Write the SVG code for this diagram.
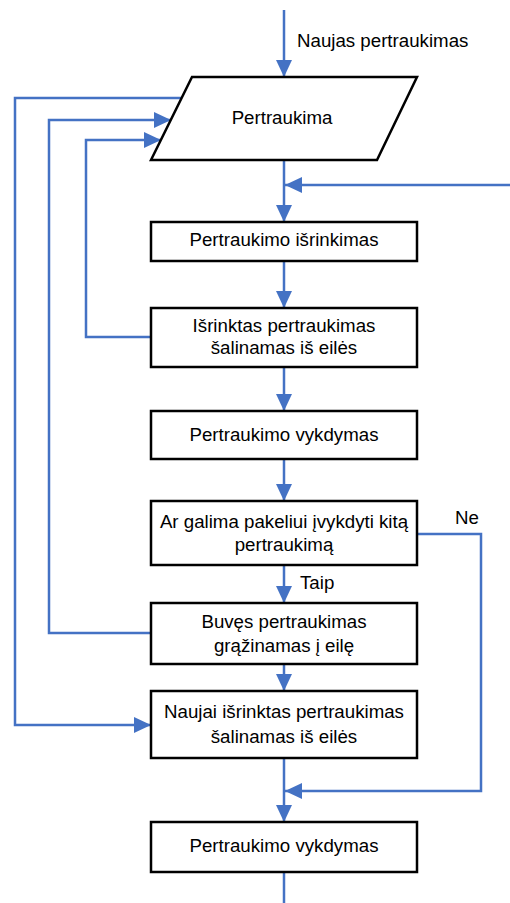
<svg xmlns="http://www.w3.org/2000/svg" width="510" height="903" viewBox="0 0 510 903">
<style>
.node{fill:#fff;stroke:#000;stroke-width:2.5}
.t{font-family:"Liberation Sans",Arial,sans-serif;font-size:18.7px;fill:#000;text-anchor:middle}
.l{font-family:"Liberation Sans",Arial,sans-serif;font-size:18.7px;fill:#000}
.c{fill:none;stroke:#4472C4;stroke-width:2.5}
.a{marker-end:url(#ah)}
</style>
<defs>
<marker id="ah" markerUnits="userSpaceOnUse" markerWidth="18" markerHeight="18" viewBox="0 0 18 18" refX="17" refY="9" orient="auto">
<path d="M0,1 L17,9 L0,17 Z" fill="#4472C4"/>
</marker>
</defs>
<rect width="510" height="903" fill="#fff"/>
<g id="connectors">
<path class="c a" d="M284,10 V77"/>
<path class="c a" d="M284,160 V222"/>
<path class="c a" d="M510,185 H285"/>
<path class="c a" d="M284,261 V308"/>
<path class="c a" d="M151,337 H86 V140 H161"/>
<path class="c a" d="M284,367 V411"/>
<path class="c a" d="M284,459 V501"/>
<path class="c a" d="M417,534 H481 V791 H285"/>
<path class="c a" d="M284,565 V603"/>
<path class="c a" d="M151,633 H49 V120 H171"/>
<path class="c a" d="M284,664 V691"/>
<path class="c a" d="M182,98 H15 V725 H151"/>
<path class="c a" d="M284,758 V822"/>
<path class="c" d="M284,872 V903"/>
</g>
<g id="labels">
<text class="l" x="297" y="47">Naujas pertraukimas</text>
<text class="l" x="455" y="524">Ne</text>
<text class="l" x="300" y="589">Taip</text>
</g>
<g id="n0">
<polygon class="node" points="192,77 417,77 377,160 151,160"/>
<text class="t" x="282" y="124">Pertraukima</text>
</g>
<g id="n1">
<rect class="node" x="151" y="222" width="266" height="39"/>
<text class="t" x="284" y="246">Pertraukimo išrinkimas</text>
</g>
<g id="n2">
<rect class="node" x="151" y="308" width="266" height="59"/>
<text class="t" x="284" y="332">Išrinktas pertraukimas</text>
<text class="t" x="284" y="354">šalinamas iš eilės</text>
</g>
<g id="n3">
<rect class="node" x="151" y="411" width="266" height="48"/>
<text class="t" x="284" y="441">Pertraukimo vykdymas</text>
</g>
<g id="n4">
<rect class="node" x="151" y="501" width="266" height="64"/>
<text class="t" x="284" y="528">Ar galima pakeliui įvykdyti kitą</text>
<text class="t" x="284" y="551">pertraukimą</text>
</g>
<g id="n5">
<rect class="node" x="151" y="603" width="266" height="61"/>
<text class="t" x="284" y="628">Buvęs pertraukimas</text>
<text class="t" x="284" y="652">grąžinamas į eilę</text>
</g>
<g id="n6">
<rect class="node" x="151" y="691" width="266" height="67"/>
<text class="t" x="284" y="718">Naujai išrinktas pertraukimas</text>
<text class="t" x="284" y="743">šalinamas iš eilės</text>
</g>
<g id="n7">
<rect class="node" x="151" y="822" width="266" height="50"/>
<text class="t" x="284" y="852">Pertraukimo vykdymas</text>
</g>
</svg>
